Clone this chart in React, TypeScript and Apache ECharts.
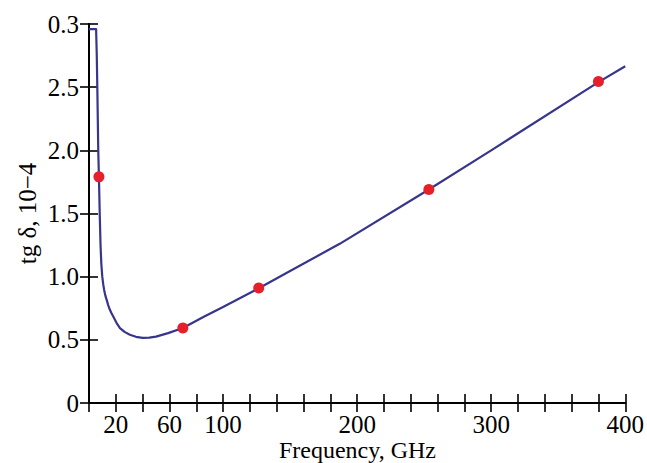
import React, { useEffect, useRef } from "react";
import * as echarts from "echarts";

// Curve (frequency GHz, tg δ ×10^-4)
const curveFreq = [0, 5.3, 5.8, 6.2, 6.9, 7.4, 8.0, 8.6, 9.2, 9.9, 10.6, 11.3, 12.2, 13.2, 14.3, 15.5, 16.8, 18.1, 20.5, 23.1, 26.5, 30.5, 35, 40, 45, 50, 59, 70, 86, 100, 127, 150, 187, 253.5, 300, 380, 400];
const curveTan = [2.96, 2.96, 2.75, 2.5, 2.0, 1.79, 1.5, 1.25, 1.1, 1.0, 0.94, 0.895, 0.85, 0.816, 0.775, 0.74, 0.71, 0.684, 0.635, 0.593, 0.563, 0.54, 0.524, 0.515, 0.517, 0.525, 0.553, 0.593, 0.684, 0.76, 0.91, 1.045, 1.26, 1.69, 2.0, 2.54, 2.665];

// Measured points
const pointFreq = [7.4, 70, 126.6, 253.5, 380];
const pointTan = [1.79, 0.593, 0.91, 1.69, 2.545];

// Tick labels
const xTickLabels = ["20", "60", "100", "200", "300", "400"];
const yTickLabels = ["0", "0.5", "1.0", "1.5", "2.0", "2.5", "0.3"];

const xTitle = "Frequency, GHz";
const yTitle = "tg δ, 10−4";

const FONT = "'Liberation Serif', 'Times New Roman', serif";
const FS = 25;

export default function App() {
  const ref = useRef<HTMLDivElement>(null);
  useEffect(() => {
    if (!ref.current) return;
    const chart = echarts.init(ref.current, undefined, { renderer: "svg" });
    const axisLine = { show: true, lineStyle: { color: "#000", width: 2 } };
    const tick = { show: true, inside: true, length: 9, lineStyle: { color: "#000", width: 1.6 } };
    chart.setOption({
      animation: false,
      backgroundColor: "#fff",
      grid: { left: 89, right: 21, top: 24, bottom: 60, containLabel: false },
      xAxis: [
        {
          type: "value",
          position: "bottom",
          min: 0,
          max: 400,
          interval: 20,
          axisLine,
          axisTick: tick,
          splitLine: { show: false },
          axisLabel: {
            margin: 9,
            color: "#000",
            fontFamily: FONT,
            fontSize: FS,
            showMinLabel: true,
            showMaxLabel: true,
            formatter: (v: number) => (xTickLabels.includes(String(v)) ? String(v) : ""),
          },
        },
        {
          type: "value",
          position: "top",
          min: 0,
          max: 400,
          interval: 20,
          axisLine,
          axisTick: tick,
          splitLine: { show: false },
          axisLabel: { show: false },
        },
      ],
      yAxis: [
        {
          type: "value",
          position: "left",
          min: 0,
          max: 3,
          interval: 0.5,
          axisLine,
          axisTick: tick,
          splitLine: { show: false },
          axisLabel: {
            margin: 10,
            color: "#000",
            fontFamily: FONT,
            fontSize: FS,
            formatter: (v: number) => yTickLabels[Math.round(v / 0.5)] ?? "",
          },
        },
        {
          type: "value",
          position: "right",
          min: 0,
          max: 3,
          interval: 0.5,
          axisLine,
          axisTick: tick,
          splitLine: { show: false },
          axisLabel: { show: false },
        },
      ],
      series: [
        {
          type: "line",
          data: curveFreq.map((f, i) => [f, curveTan[i]]),
          showSymbol: false,
          smooth: false,
          lineStyle: { color: "#38358c", width: 2.2, join: "round" },
          clip: true,
          z: 2,
        },
        {
          type: "scatter",
          data: pointFreq.map((f, i) => [f, pointTan[i]]),
          symbolSize: 11,
          itemStyle: { color: "#e5202a", opacity: 1 },
          z: 3,
        },
      ],
      graphic: [
        {
          type: "text",
          x: 357.5,
          y: 449.5,
          style: {
            text: xTitle,
            font: `24px ${FONT}`,
            fill: "#000",
            align: "center",
            verticalAlign: "middle",
          },
        },
        {
          type: "text",
          x: 27,
          y: 213.5,
          rotation: Math.PI / 2,
          style: {
            text: yTitle,
            font: `${FS}px ${FONT}`,
            fill: "#000",
            align: "center",
            verticalAlign: "middle",
          },
        },
      ],
    });
    return () => chart.dispose();
  }, []);
  return (
    <div
      ref={ref}
      style={{ position: "absolute", left: 0, top: 0, width: 647, height: 463 }}
    />
  );
}
